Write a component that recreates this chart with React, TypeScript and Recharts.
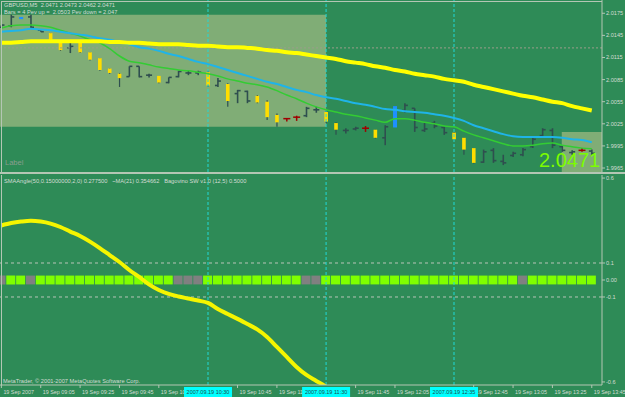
import React from 'react';
import { ComposedChart, Bar, Line, XAxis, YAxis, ReferenceLine, ReferenceArea, Cell } from 'recharts';

// GBPUSD M5 bars, 08:45 .. 13:45
const opens = [2.0156, 2.0158, 2.0167, 2.0170, 2.0152, 2.0148, 2.0136, 2.0128, 2.0136, 2.0122, 2.0114, 2.0100, 2.0093, 2.0089, 2.0103, 2.0091, 2.0090, 2.0081, 2.0089, 2.0094, 2.0094, 2.0095, 2.0077, 2.0079, 2.0066, 2.0069, 2.0063, 2.0055, 2.0037, 2.0032, 2.0034, 2.0036, 2.0044, 2.0041, 2.0026, 2.0016, 2.0018, 2.0019, 2.0017, 2.0006, 2.0020, 2.0043, 2.0046, 2.0016, 2.0026, 2.0020, 2.0013, 2.0006, 1.9992, 1.9973, 1.9989, 1.9974, 1.9982, 1.9983, 1.9994, 2.0009, 2.0016, 1.9994, 1.9986, 1.9989, 1.9988];
const highs = [2.0159, 2.0173, 2.0170, 2.0173, 2.0152, 2.0148, 2.0136, 2.0136, 2.0136, 2.0122, 2.0114, 2.0100, 2.0094, 2.0103, 2.0103, 2.0093, 2.0090, 2.0088, 2.0097, 2.0097, 2.0097, 2.0097, 2.0087, 2.0080, 2.0071, 2.0070, 2.0064, 2.0057, 2.0039, 2.0033, 2.0036, 2.0048, 2.0048, 2.0043, 2.0027, 2.0019, 2.0021, 2.0022, 2.0017, 2.0023, 2.0049, 2.0053, 2.0046, 2.0027, 2.0029, 2.0021, 2.0014, 2.0006, 1.9992, 1.9990, 1.9992, 1.9983, 1.9987, 1.9992, 2.0006, 2.0019, 2.0019, 1.9996, 1.9989, 1.9992, 1.9990];
const lows = [2.0156, 2.0156, 2.0167, 2.0155, 2.0150, 2.0139, 2.0124, 2.0121, 2.0121, 2.0111, 2.0097, 2.0093, 2.0075, 2.0089, 2.0088, 2.0088, 2.0080, 2.0080, 2.0088, 2.0091, 2.0091, 2.0075, 2.0075, 2.0048, 2.0053, 2.0053, 2.0053, 2.0030, 2.0021, 2.0028, 2.0029, 2.0034, 2.0040, 2.0026, 2.0010, 2.0012, 2.0016, 2.0014, 2.0005, 1.9996, 2.0020, 2.0040, 2.0014, 2.0014, 2.0019, 2.0010, 2.0003, 1.9983, 1.9971, 1.9972, 1.9972, 1.9969, 1.9980, 1.9981, 1.9992, 2.0006, 1.9992, 1.9987, 1.9983, 1.9987, 1.9983];
const closes = [2.0159, 2.0170, 2.0170, 2.0156, 2.0150, 2.0139, 2.0125, 2.0130, 2.0122, 2.0112, 2.0098, 2.0094, 2.0087, 2.0103, 2.0089, 2.0091, 2.0081, 2.0088, 2.0096, 2.0094, 2.0095, 2.0077, 2.0083, 2.0056, 2.0070, 2.0056, 2.0054, 2.0034, 2.0027, 2.0032, 2.0034, 2.0046, 2.0044, 2.0028, 2.0017, 2.0016, 2.0019, 2.0019, 2.0006, 2.0021, 2.0049, 2.0050, 2.0020, 2.0018, 2.0022, 2.0013, 2.0004, 1.9990, 1.9972, 1.9987, 1.9975, 1.9972, 1.9985, 1.9990, 2.0004, 2.0017, 1.9996, 1.9989, 1.9987, 1.9989, 1.9985];
// d = plain bar, y = yellow body, r = red cross, b = blue body
const kinds = ['d', 'd', 'b', 'd', 'd', 'y', 'y', 'd', 'y', 'y', 'y', 'y', 'y', 'd', 'd', 'd', 'y', 'd', 'd', 'd', 'd', 'y', 'd', 'y', 'd', 'd', 'y', 'y', 'y', 'r', 'r', 'd', 'd', 'y', 'y', 'd', 'd', 'r', 'y', 'd', 'b', 'd', 'd', 'd', 'd', 'd', 'y', 'y', 'y', 'd', 'd', 'd', 'd', 'd', 'd', 'd', 'd', 'd', 'd', 'r', 'd'];

const smaSlow = [2.0135, 2.0135, 2.0136, 2.0137, 2.0137, 2.0137, 2.0137, 2.0137, 2.0137, 2.0137, 2.0137, 2.0136, 2.0136, 2.0135, 2.0135, 2.0134, 2.0133, 2.0133, 2.0133, 2.0132, 2.0131, 2.0131, 2.0130, 2.0129, 2.0129, 2.0128, 2.0127, 2.0125, 2.0124, 2.0122, 2.0121, 2.0119, 2.0117, 2.0115, 2.0113, 2.0110, 2.0108, 2.0106, 2.0103, 2.0101, 2.0098, 2.0096, 2.0093, 2.0091, 2.0089, 2.0086, 2.0084, 2.0082, 2.0078, 2.0075, 2.0072, 2.0069, 2.0066, 2.0063, 2.0061, 2.0058, 2.0055, 2.0053, 2.0049, 2.0046, 2.0043];
const maFast = [2.0150, 2.0151, 2.0152, 2.0154, 2.0153, 2.0152, 2.0150, 2.0148, 2.0146, 2.0144, 2.0141, 2.0139, 2.0136, 2.0133, 2.0129, 2.0127, 2.0124, 2.0120, 2.0117, 2.0113, 2.0109, 2.0106, 2.0102, 2.0098, 2.0094, 2.0090, 2.0086, 2.0082, 2.0079, 2.0075, 2.0071, 2.0068, 2.0064, 2.0061, 2.0059, 2.0056, 2.0053, 2.0051, 2.0048, 2.0045, 2.0044, 2.0042, 2.0041, 2.0040, 2.0038, 2.0036, 2.0033, 2.0029, 2.0023, 2.0019, 2.0015, 2.0011, 2.0008, 2.0007, 2.0007, 2.0007, 2.0007, 2.0006, 2.0004, 2.0003, 2.0000];
const maMid = [2.0155, 2.0158, 2.0159, 2.0159, 2.0158, 2.0156, 2.0152, 2.0148, 2.0144, 2.0139, 2.0135, 2.0127, 2.0117, 2.0110, 2.0108, 2.0105, 2.0102, 2.0100, 2.0098, 2.0097, 2.0095, 2.0093, 2.0090, 2.0086, 2.0083, 2.0080, 2.0078, 2.0075, 2.0070, 2.0064, 2.0059, 2.0053, 2.0048, 2.0044, 2.0041, 2.0038, 2.0036, 2.0033, 2.0030, 2.0027, 2.0032, 2.0032, 2.0030, 2.0027, 2.0025, 2.0022, 2.0021, 2.0015, 2.0010, 2.0006, 2.0002, 1.9998, 1.9995, 1.9995, 1.9996, 1.9998, 1.9999, 1.9996, 1.9994, 1.9992, 1.9991];

const smaAngle = [0.321, 0.335, 0.344, 0.349, 0.344, 0.332, 0.312, 0.285, 0.259, 0.226, 0.188, 0.147, 0.106, 0.059, 0.018, -0.026, -0.059, -0.082, -0.097, -0.109, -0.121, -0.135, -0.171, -0.2, -0.229, -0.259, -0.291, -0.335, -0.394, -0.453, -0.512, -0.559, -0.594, -0.629, -0.69];
// 1 = green square, 0 = grey
const swState = [0, 1, 1, 0, 1, 1, 1, 1, 1, 1, 1, 1, 1, 1, 1, 1, 1, 1, 0, 0, 0, 1, 1, 1, 1, 1, 1, 1, 1, 1, 1, 0, 0, 1, 1, 1, 1, 1, 1, 1, 1, 1, 1, 1, 1, 1, 1, 1, 1, 1, 1, 1, 1, 0, 1, 1, 1, 1, 1, 1, 1];

const priceTicks = [2.0175, 2.0145, 2.0115, 2.0085, 2.0055, 2.0025, 1.9995, 1.9965];
const indTicks = [0.6, 0.1, 0, -0.1, -0.6];
// labels at 20 minute steps; the ones hidden by the highlighted dates are cut as they show
const timeTicks = [0, 4, 8, 12, 16, 24, 28, 36, 40, 48, 52, 56, 60];
const timeLabels = ['19 Sep 2007', '19 Sep 09:05', '19 Sep 09:25', '19 Sep 09:45', '19 Sep 10', '19 Sep 10:45', '19 Sep 11', '19 Sep 11:45', '19 Sep 12:05', '19 Sep 12:45', '19 Sep 13:05', '19 Sep 13:25', '19 Sep 13:45'];
const markerBars = [21, 33, 46];
const markerLabels = ['2007.09.19 10:30', '2007.09.19 11:30', '2007.09.19 12:35'];

const rows = opens.map((o, i) => ({
  i, o, h: highs[i], l: lows[i], c: closes[i], k: kinds[i],
  range: [lows[i], highs[i]],
  slow: smaSlow[i], fast: maFast[i], mid: maMid[i],
}));
const lowerRows = swState.map((s, i) => ({
  i, s, sq: [-0.026, 0.026], ang: i < smaAngle.length ? smaAngle[i] : null,
}));

const FONT = "'Liberation Sans', Arial, sans-serif";
const BG = '#2E8B57';
const FRAME = '#b4c6b4';
const TXT = '#d4dcd4';
const XDOM: [number, number] = [-0.14, 61.04];

const Candle = (props: any) => {
  const { x, y, width, height, payload } = props;
  if (!payload) return null;
  const { o, h, l, c, k } = payload;
  const cx = x + width / 2;
  const py = (v: number) => y + ((h - v) / (h - l)) * height;
  if (k === 'y') {
    const top = py(Math.max(o, c)), bot = py(Math.min(o, c));
    return (
      <g>
        <line x1={cx} x2={cx} y1={y} y2={y + height} stroke="#2F4F4F" strokeWidth={1.2} />
        <rect x={cx - 1.8} y={top} width={3.6} height={Math.max(bot - top, 1.5)} fill="#FFDD00" />
      </g>
    );
  }
  if (k === 'b') {
    const top = py(Math.max(o, c)), bot = py(Math.min(o, c));
    return <rect x={cx - 2} y={top} width={4} height={Math.max(bot - top, 2)} fill="#1E90FF" />;
  }
  if (k === 'r') {
    return (
      <g stroke="#A00000" strokeWidth={1.5}>
        <line x1={cx} x2={cx} y1={y} y2={y + height} />
        <line x1={cx - 3.5} x2={cx + 3.5} y1={py(c)} y2={py(c)} />
      </g>
    );
  }
  return (
    <g stroke="#2F4F4F" strokeWidth={1.6}>
      <line x1={cx} x2={cx} y1={y} y2={y + height} />
      <line x1={cx - 3} x2={cx} y1={py(o)} y2={py(o)} />
      <line x1={cx} x2={cx + 3} y1={py(c)} y2={py(c)} />
    </g>
  );
};

const TimeTick = (props: any) => {
  const { x, y, payload } = props;
  const v = payload.value;
  const m = markerBars.indexOf(v);
  if (m >= 0) {
    return (
      <g>
        <rect x={x - 24} y={y + 2} width={48} height={10} fill="#00FFFF" />
        <text x={x} y={y + 9} textAnchor="middle" fontSize={5.5} fontFamily={FONT} fill="#1d4d4d">{markerLabels[m]}</text>
      </g>
    );
  }
  const t = timeTicks.indexOf(v);
  return (
    <g>
      <line x1={x} x2={x} y1={y} y2={y + 3} stroke={FRAME} />
      <text x={x + 2} y={y + 9} fontSize={5.4} fontFamily={FONT} fill={TXT}>{timeLabels[t]}</text>
    </g>
  );
};

const small: React.CSSProperties = { position: 'absolute', fontFamily: FONT, fontSize: 5.7, lineHeight: '7px', color: TXT, whiteSpace: 'pre' };

export default function App() {
  return (
    <div style={{ position: 'absolute', left: 0, top: 0, width: 625, height: 397, background: BG, overflow: 'hidden' }}>
      <style>{'body{margin:0}'}</style>
      <div style={{ position: 'absolute', left: 0, top: 0 }}>
        <ComposedChart width={625} height={172} data={rows} margin={{ top: 0, right: 0, bottom: 0, left: 0 }}>
          <XAxis dataKey="i" type="number" domain={XDOM} hide allowDataOverflow />
          <YAxis orientation="right" width={23} domain={[1.99596, 2.0193]} ticks={priceTicks} interval={0} allowDataOverflow
            tickFormatter={(v: number) => v.toFixed(4)} tick={{ fill: TXT, fontSize: 5.6, fontFamily: FONT }}
            tickSize={3} tickMargin={1} axisLine={{ stroke: FRAME }} tickLine={{ stroke: FRAME }} />
          <ReferenceArea x1={-0.14} x2={33} y1={2.0021} y2={2.0173} fill="#86AF78" fillOpacity={0.93} stroke="none" />
          <ReferenceArea x1={56.95} x2={61.04} y1={1.99596} y2={2.0014} fill="#86AF78" fillOpacity={0.93} stroke="none" />
          <ReferenceLine y={2.0128} stroke="#9a9f8a" strokeDasharray="2 2" />
          {markerBars.map((b) => (
            <ReferenceLine key={b} x={b} stroke="#20D8D8" strokeDasharray="3 2" />
          ))}
          <Bar dataKey="range" barSize={8} shape={Candle} activeBar={false} isAnimationActive={false} />
          <Line dataKey="mid" type="monotone" stroke="#33CC33" strokeWidth={1.5} dot={false} activeDot={false} isAnimationActive={false} />
          <Line dataKey="fast" type="monotone" stroke="#1FB4E8" strokeWidth={2} dot={false} activeDot={false} isAnimationActive={false} />
          <Line dataKey="slow" type="monotone" stroke="#FFFF00" strokeWidth={4} dot={false} activeDot={false} isAnimationActive={false} />
        </ComposedChart>
      </div>
      <div style={{ position: 'absolute', left: 0, top: 175 }}>
        <ComposedChart width={625} height={222} data={lowerRows} margin={{ top: 0, right: 0, bottom: 0, left: 0 }}>
          <XAxis dataKey="i" type="number" domain={XDOM} allowDataOverflow ticks={[...timeTicks, ...markerBars]} interval={0}
            height={12} tickSize={0} tickMargin={0} tickLine={false} axisLine={{ stroke: FRAME }} tick={TimeTick} />
          <YAxis orientation="right" width={23} domain={[-0.618, 0.618]} ticks={indTicks} interval={0} allowDataOverflow
            tickFormatter={(v: number) => (v === 0 ? '0.00' : String(v))} tick={{ fill: TXT, fontSize: 5.6, fontFamily: FONT }}
            tickSize={3} tickMargin={1} axisLine={{ stroke: FRAME }} tickLine={{ stroke: FRAME }} />
          <ReferenceLine y={0.1} stroke="#b8c4b8" strokeDasharray="3 3" />
          <ReferenceLine y={-0.1} stroke="#b8c4b8" strokeDasharray="3 3" />
          {markerBars.map((b) => (
            <ReferenceLine key={b} x={b} stroke="#20D8D8" strokeDasharray="3 2" />
          ))}
          <Bar dataKey="sq" barSize={9} activeBar={false} isAnimationActive={false}>
            {lowerRows.map((r) => (
              <Cell key={r.i} fill={r.s ? '#7FFF00' : '#808080'} />
            ))}
          </Bar>
          <Line dataKey="ang" type="monotone" stroke="#F5F500" strokeWidth={4} dot={false} activeDot={false} isAnimationActive={false} />
        </ComposedChart>
      </div>
      {/* frames */}
      <div style={{ position: 'absolute', left: 1, top: 1, width: 601, height: 171, borderTop: `1px solid ${FRAME}`, borderLeft: `1px solid ${FRAME}`, boxSizing: 'border-box', pointerEvents: 'none' }} />
      <div style={{ position: 'absolute', left: 1, top: 175, width: 1, height: 210, background: FRAME }} />
      <div style={{ position: 'absolute', left: 0, top: 172, width: 625, height: 2, background: FRAME }} />
      {/* texts */}
      <div style={{ ...small, left: 4, top: 2 }}>{'GBPUSD,M5  2.0471 2.0473 2.0462 2.0471'}</div>
      <div style={{ ...small, left: 4, top: 9 }}>{'Bars = 4 Pev up =  2.0503 Pev down = 2.047'}</div>
      <div style={{ ...small, left: 4, top: 177.5 }}>{'SMAAngle(50,0.15000000,2,0) 0.277500   ~MA(21) 0.354662   Bagovino SW v1.0 (12,5) 0.5000'}</div>
      <div style={{ ...small, left: 3, top: 377.5 }}>{'MetaTrader, © 2001-2007 MetaQuotes Software Corp.'}</div>
      <div style={{ position: 'absolute', left: 5, top: 158.5, fontFamily: FONT, fontSize: 7.5, lineHeight: '7.5px', color: '#8a9e8e' }}>Label</div>
      <div style={{ position: 'absolute', left: 539, top: 150, fontFamily: FONT, fontSize: 20, lineHeight: '20px', color: '#7CFC00' }}>2.0471</div>
    </div>
  );
}
